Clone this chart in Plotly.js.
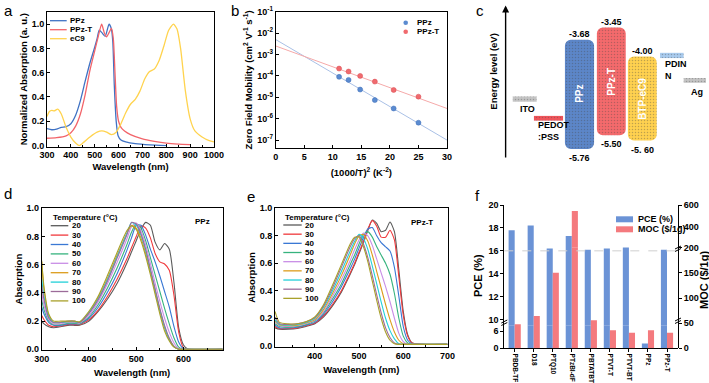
<!DOCTYPE html>
<html>
<head>
<meta charset="utf-8">
<script src="https://cdn.plot.ly/plotly-3.0.1.min.js"></script>
<style>
  html, body { margin: 0; padding: 0; background: #fff; }
  #fig { width: 709px; height: 383px; }
</style>
</head>
<body>
<div id="fig"></div>
<script>
// ---------- (a) normalized absorption ----------
const wlPPz = [300, 320, 340, 360, 380, 400, 420, 440, 460, 480, 500, 510, 519, 530, 544, 560, 570, 576, 582, 590, 598, 610, 630, 670, 730, 800];
const absPPz = [0.14, 0.13, 0.135, 0.15, 0.155, 0.18, 0.25, 0.37, 0.53, 0.68, 0.81, 0.88, 0.95, 0.93, 0.90, 1.0, 0.96, 0.85, 0.5, 0.2, 0.08, 0.045, 0.03, 0.015, 0.005, 0.0];
const wlPPzT = [300, 340, 380, 400, 420, 440, 460, 480, 500, 515, 529, 540, 550, 560, 570, 578, 585, 592, 600, 610, 625, 650, 700, 750, 800, 850, 900];
const absPPzT = [0.06, 0.065, 0.08, 0.105, 0.16, 0.26, 0.42, 0.62, 0.78, 0.90, 1.0, 0.93, 0.895, 0.93, 0.965, 0.88, 0.6, 0.32, 0.2, 0.15, 0.12, 0.09, 0.055, 0.035, 0.02, 0.012, 0.008];
const wlEC9 = [300, 310, 320, 330, 345, 360, 380, 400, 420, 435, 450, 480, 510, 530, 550, 570, 590, 610, 630, 650, 670, 690, 710, 730, 750, 770, 790, 810, 830, 845, 860, 880, 900, 920, 950, 980, 1000];
const absEC9 = [0.24, 0.28, 0.29, 0.285, 0.30, 0.26, 0.15, 0.07, 0.02, 0.0, 0.02, 0.07, 0.11, 0.12, 0.11, 0.09, 0.11, 0.18, 0.27, 0.34, 0.38, 0.45, 0.55, 0.61, 0.63, 0.70, 0.82, 0.95, 1.0, 0.96, 0.8, 0.45, 0.22, 0.12, 0.07, 0.04, 0.03];

// ---------- (b) zero field mobility ----------
const invT2 = [11.1, 12.76, 14.79, 17.36, 20.66, 25.0];
const muPPz = [9e-5, 6.5e-5, 2.3e-5, 7.4e-6, 3e-6, 6.5e-7];
const muPPzT = [2.2e-4, 1.6e-4, 1e-4, 5.4e-5, 2.2e-5, 1.07e-5];
const fitX = [0, 30];
const fitPPz = [5e-3, 1e-7];
const fitPPzT = [2.5e-3, 3e-6];

// ---------- (c) energy levels (eV) ----------
const levelNames = ["ITO", "PEDOT:PSS", "PPz", "PPz-T", "BTP-eC9", "PDINN", "Ag"];
const levelTop = [-4.76, -5.13, -3.68, -3.45, -4.00, -3.93, -4.41];
const levelBottom = [-4.86, -5.22, -5.76, -5.50, -5.60, -4.03, -4.50];
const topLabels = ["-3.68", "-3.45", "-4.00"];
const bottomLabels = ["-5.76", "-5.50", "-5. 60"];

// ---------- (d) PPz temperature dependent absorption ----------
const temps = [20, 30, 40, 50, 60, 70, 80, 90, 100];
const wlD = [300, 305, 315, 325, 340, 355, 370, 380, 400, 420, 440, 460, 480, 490, 500, 510, 520, 530, 540, 550, 560, 570, 580, 590, 600, 610, 683];
const ppz20 = [0.20, 0.18, 0.16, 0.153, 0.16, 0.17, 0.17, 0.17, 0.20, 0.27, 0.36, 0.47, 0.61, 0.69, 0.77, 0.85, 0.90, 0.88, 0.76, 0.705, 0.75, 0.71, 0.47, 0.15, 0.03, 0.0, 0.0];
const ppz30 = [0.24, 0.21, 0.17, 0.16, 0.165, 0.175, 0.175, 0.175, 0.21, 0.28, 0.38, 0.50, 0.64, 0.72, 0.80, 0.875, 0.86, 0.79, 0.68, 0.62, 0.605, 0.56, 0.38, 0.12, 0.01, 0.0, 0.0];
const ppz40 = [0.30, 0.25, 0.19, 0.17, 0.17, 0.18, 0.18, 0.18, 0.22, 0.30, 0.41, 0.54, 0.70, 0.79, 0.88, 0.88, 0.81, 0.71, 0.62, 0.52, 0.41, 0.30, 0.16, 0.05, 0.005, 0.0, 0.0];
const ppz50 = [0.35, 0.28, 0.20, 0.175, 0.175, 0.185, 0.185, 0.18, 0.23, 0.32, 0.44, 0.58, 0.74, 0.83, 0.89, 0.86, 0.77, 0.65, 0.53, 0.41, 0.29, 0.18, 0.08, 0.015, 0.0, 0.0, 0.0];
const ppz60 = [0.40, 0.31, 0.21, 0.18, 0.18, 0.19, 0.19, 0.185, 0.24, 0.34, 0.47, 0.62, 0.78, 0.87, 0.895, 0.84, 0.74, 0.61, 0.47, 0.34, 0.22, 0.12, 0.045, 0.005, 0.0, 0.0, 0.0];
const ppz70 = [0.62, 0.42, 0.24, 0.19, 0.19, 0.195, 0.195, 0.19, 0.26, 0.37, 0.51, 0.67, 0.82, 0.88, 0.86, 0.79, 0.68, 0.55, 0.41, 0.27, 0.15, 0.07, 0.02, 0.0, 0.0, 0.0, 0.0];
const ppz80 = [0.50, 0.37, 0.23, 0.19, 0.19, 0.195, 0.195, 0.19, 0.26, 0.36, 0.50, 0.66, 0.82, 0.90, 0.88, 0.81, 0.70, 0.56, 0.42, 0.28, 0.16, 0.07, 0.02, 0.0, 0.0, 0.0, 0.0];
const ppz90 = [0.45, 0.35, 0.22, 0.19, 0.19, 0.20, 0.20, 0.19, 0.255, 0.355, 0.49, 0.65, 0.81, 0.90, 0.89, 0.82, 0.71, 0.57, 0.43, 0.29, 0.17, 0.08, 0.02, 0.0, 0.0, 0.0, 0.0];
const ppz100 = [0.63, 0.44, 0.25, 0.20, 0.20, 0.20, 0.20, 0.195, 0.27, 0.38, 0.53, 0.69, 0.84, 0.875, 0.85, 0.77, 0.66, 0.53, 0.39, 0.25, 0.13, 0.06, 0.015, 0.0, 0.0, 0.0, 0.0];

// ---------- (e) PPz-T temperature dependent absorption ----------
const wlE = [310, 320, 340, 360, 380, 400, 420, 440, 460, 480, 490, 500, 510, 520, 530, 540, 550, 560, 570, 580, 590, 600, 610, 620, 640, 700];
const ppzt20 = [0.13, 0.12, 0.12, 0.125, 0.14, 0.16, 0.21, 0.29, 0.39, 0.52, 0.59, 0.67, 0.75, 0.84, 0.915, 0.89, 0.83, 0.84, 0.90, 0.83, 0.55, 0.25, 0.08, 0.02, 0.01, 0.01];
const ppzt30 = [0.14, 0.125, 0.125, 0.13, 0.145, 0.165, 0.22, 0.30, 0.40, 0.53, 0.60, 0.68, 0.76, 0.85, 0.91, 0.87, 0.79, 0.79, 0.84, 0.77, 0.50, 0.22, 0.07, 0.02, 0.01, 0.01];
const ppzt40 = [0.15, 0.13, 0.13, 0.135, 0.15, 0.17, 0.23, 0.32, 0.43, 0.56, 0.63, 0.71, 0.79, 0.85, 0.86, 0.80, 0.75, 0.72, 0.69, 0.57, 0.36, 0.14, 0.04, 0.015, 0.01, 0.01];
const ppzt50 = [0.16, 0.14, 0.135, 0.14, 0.155, 0.18, 0.24, 0.34, 0.45, 0.59, 0.66, 0.74, 0.81, 0.83, 0.79, 0.72, 0.66, 0.60, 0.52, 0.38, 0.20, 0.07, 0.02, 0.01, 0.01, 0.01];
const ppzt60 = [0.17, 0.145, 0.14, 0.145, 0.16, 0.185, 0.25, 0.36, 0.48, 0.62, 0.70, 0.77, 0.82, 0.80, 0.73, 0.63, 0.53, 0.43, 0.32, 0.20, 0.09, 0.03, 0.01, 0.01, 0.01, 0.01];
const ppzt70 = [0.18, 0.15, 0.145, 0.15, 0.165, 0.19, 0.265, 0.38, 0.51, 0.66, 0.74, 0.80, 0.81, 0.76, 0.66, 0.54, 0.42, 0.30, 0.19, 0.10, 0.04, 0.015, 0.01, 0.01, 0.01, 0.01];
const ppzt80 = [0.19, 0.155, 0.15, 0.155, 0.17, 0.20, 0.28, 0.40, 0.54, 0.69, 0.76, 0.81, 0.78, 0.70, 0.58, 0.45, 0.32, 0.20, 0.11, 0.05, 0.015, 0.01, 0.01, 0.01, 0.01, 0.01];
const ppzt90 = [0.21, 0.16, 0.155, 0.16, 0.175, 0.205, 0.29, 0.42, 0.57, 0.72, 0.78, 0.80, 0.74, 0.64, 0.51, 0.37, 0.24, 0.13, 0.06, 0.02, 0.01, 0.01, 0.01, 0.01, 0.01, 0.01];
const ppzt100 = [0.25, 0.17, 0.16, 0.16, 0.175, 0.21, 0.30, 0.44, 0.59, 0.74, 0.79, 0.79, 0.72, 0.61, 0.47, 0.33, 0.20, 0.10, 0.04, 0.015, 0.01, 0.01, 0.01, 0.01, 0.01, 0.01];

// ---------- (f) PCE and material cost ----------
const donors = ["PBDB-TF", "D18", "PTQ10", "PTzBI-dF", "PBTATBT", "PTVT-T", "PTVT-BT", "PPz", "PPz-T"];
const pce = [17.8, 18.2, 16.2, 17.3, 16.1, 16.2, 16.3, 1.7, 16.1];
const moc = [48, 64, 150, 543, 56, 36, 31, 36, 31];

// ================= drawing =================
const W = 709, H = 383;
function px(x) { return x / W; }       // pixel -> paper x
function py(y) { return 1 - y / H; }   // pixel -> paper y

const FONT = '"Liberation Sans", Arial, sans-serif';
const BLUE = "#3f72c4", RED = "#f2646a", YELLOW = "#ffd34e";
const tempColors = ["#5a5a5a", "#f0393c", "#3a78d4", "#36b37e", "#c98ee6", "#dc9c1c", "#22d0d8", "#9c6b99", "#a9a12b"];

const shapes = [];
const annotations = [];

function addText(x, y, text, opts) {
  annotations.push(Object.assign({
    xref: "paper", yref: "paper", x: px(x), y: py(y), text: text,
    showarrow: false, xanchor: "left", yanchor: "middle",
    font: { size: 8, weight: "bold", color: "#000" }
  }, opts || {}));
}
function addLine(x0, y0, x1, y1, color, width, dash) {
  shapes.push({ type: "line", xref: "paper", yref: "paper",
    x0: px(x0), y0: py(y0), x1: px(x1), y1: py(y1),
    line: { color: color, width: width || 1.2, dash: dash || "solid" } });
}

function boxAxis(domain, range, extra) {
  return Object.assign({
    domain: domain, range: range, showline: true, mirror: true,
    linecolor: "#000", linewidth: 1, ticks: "inside", ticklen: 3,
    tickcolor: "#000", showgrid: false, zeroline: false,
    tickfont: { size: 9, weight: "bold" }
  }, extra);
}
function axTitle(text, standoff) {
  return { text: text, font: { size: 9.5, weight: "bold" }, standoff: standoff };
}

const traces = [];

// (a)
[[wlPPz, absPPz, BLUE], [wlPPzT, absPPzT, RED], [wlEC9, absEC9, YELLOW]].forEach(s => {
  traces.push({ x: s[0], y: s[1], mode: "lines", line: { color: s[2], width: 1.3, shape: "spline", smoothing: 0.6 },
    xaxis: "x", yaxis: "y", showlegend: false });
});
["PPz", "PPz-T", "eC9"].forEach((name, i) => {
  const y = 20.7 + i * 9;
  addLine(50, y, 66.7, y, [BLUE, RED, YELLOW][i], 1.3);
  addText(68.3, y, name);
});

// (b)
traces.push({ x: fitX, y: fitPPz, mode: "lines", line: { color: "#a9c0e6", width: 1 }, xaxis: "x2", yaxis: "y2", showlegend: false });
traces.push({ x: fitX, y: fitPPzT, mode: "lines", line: { color: "#f5a9a9", width: 1 }, xaxis: "x2", yaxis: "y2", showlegend: false });
traces.push({ x: invT2, y: muPPz, mode: "markers", marker: { color: "#5b8bd0", size: 5, line: { color: "#3e6fb8", width: 0.5 } }, xaxis: "x2", yaxis: "y2", showlegend: false });
traces.push({ x: invT2, y: muPPzT, mode: "markers", marker: { color: "#f06a6e", size: 5, line: { color: "#d84c52", width: 0.5 } }, xaxis: "x2", yaxis: "y2", showlegend: false });
[["PPz", "#5b8bd0"], ["PPz-T", "#f06a6e"]].forEach((s, i) => {
  const y = 22.7 + i * 9;
  shapes.push({ type: "circle", xref: "paper", yref: "paper", x0: px(403.4), x1: px(408), y0: py(y + 2.3), y1: py(y - 2.3),
    fillcolor: s[1], line: { width: 0 } });
  addText(415, y, s[0]);
});

// (c) energy diagram, bars sit on slots of the hidden x axis
const levelSlot = [0.635, 1.403, 2.403, 3.429, 4.429, 5.381, 6.123];
const levelWidth = [0.77, 0.94, 0.94, 0.93, 0.93, 0.76, 0.72];
const levelColor = ["#c4c4c4", "#f0545a", "#5c86c8", "#f46a6c", "#ffd14f", "#a9cbee", "#c4c4c4"];
const bigIdx = [2, 3, 4], thinIdx = [0, 1, 5, 6];
function levelTrace(idx, radius) {
  return {
    type: "bar", xaxis: "x3", yaxis: "y3", showlegend: false,
    x: idx.map(i => levelSlot[i]), width: idx.map(i => levelWidth[i]),
    base: idx.map(i => levelBottom[i]), y: idx.map(i => levelTop[i] - levelBottom[i]),
    marker: { color: idx.map(i => levelColor[i]), cornerradius: radius, line: { width: 0 },
      pattern: { shape: ".", fillmode: "overlay", fgcolor: "#ffffff", fgopacity: 0.35, size: 3, solidity: 0.2 } }
  };
}
traces.push(levelTrace(bigIdx, 6));
traces.push(levelTrace(thinIdx, 0));
bigIdx.forEach((i, k) => {
  annotations.push({ xref: "x3", yref: "y3", x: levelSlot[i], y: levelTop[i], yshift: 6, text: topLabels[k],
    showarrow: false, font: { size: 9, weight: "bold" } });
  annotations.push({ xref: "x3", yref: "y3", x: levelSlot[i], y: levelBottom[i], yshift: -9, text: bottomLabels[k],
    showarrow: false, font: { size: 9, weight: "bold" } });
  annotations.push({ xref: "x3", yref: "y3", x: levelSlot[i], y: (levelTop[i] + levelBottom[i]) / 2, text: levelNames[i],
    textangle: -90, showarrow: false, font: { size: 10, weight: "bold", color: "#fff" } });
});
annotations.push({ xref: "x3", yref: "y3", axref: "x3", ayref: "y3", x: 0.02, y: -3.03, ax: 0.02, ay: -5.95,
  text: "", showarrow: true, arrowhead: 2, arrowsize: 1, arrowwidth: 1.4, arrowcolor: "#000" });
addText(492.7, 71, "Energy level (eV)", { xanchor: "center", textangle: -90, font: { size: 9.5, weight: "bold" } });
addText(518, 109, "ITO", { font: { size: 9, weight: "bold" } });
addText(536, 131, "PEDOT<br>:PSS", { align: "left", font: { size: 9, weight: "bold" } });
addText(663, 70, "PDIN<br>N", { align: "left", font: { size: 9, weight: "bold" } });
addText(689, 92, "Ag", { font: { size: 9, weight: "bold" } });

// (d) and (e)
const ppzSeries = [ppz20, ppz30, ppz40, ppz50, ppz60, ppz70, ppz80, ppz90, ppz100];
const ppztSeries = [ppzt20, ppzt30, ppzt40, ppzt50, ppzt60, ppzt70, ppzt80, ppzt90, ppzt100];
temps.forEach((t, i) => {
  traces.push({ x: wlD, y: ppzSeries[i], mode: "lines", line: { color: tempColors[i], width: 1.1, shape: "spline", smoothing: 0.6 },
    xaxis: "x4", yaxis: "y4", showlegend: false, name: t + "" });
  traces.push({ x: wlE, y: ppztSeries[i], mode: "lines", line: { color: tempColors[i], width: 1.1, shape: "spline", smoothing: 0.6 },
    xaxis: "x5", yaxis: "y5", showlegend: false, name: t + "" });
});
function tempLegend(x0, x1, xt, yTitle, y0, step) {
  addText(x0, yTitle, "Temperature (°C)");
  temps.forEach((t, i) => {
    const y = y0 + i * step;
    addLine(x0, y, x1, y, tempColors[i], 1.3);
    addText(xt, y, String(t));
  });
}
tempLegend(50.7, 68.3, 70, 217.7, 225.7, 9.4);
tempLegend(283.3, 301.7, 303.3, 217.7, 225, 9.17);
addText(193, 221.7, "PPz");
addText(409, 222.3, "PPz-T");

// (f) broken axes: PCE on left (two pieces), MOC on right (two pieces)
const BW = 0.32;
traces.push({ type: "bar", x: donors, y: pce, offset: -BW, width: BW, marker: { color: "#6b93d6" }, xaxis: "x6", yaxis: "y6", showlegend: false });
traces.push({ type: "bar", x: donors, y: pce, offset: -BW, width: BW, marker: { color: "#6b93d6" }, xaxis: "x6", yaxis: "y7", showlegend: false });
traces.push({ type: "bar", x: donors, y: moc, offset: 0, width: BW, marker: { color: "#f47a7e" }, xaxis: "x6", yaxis: "y8", showlegend: false });
traces.push({ type: "bar", x: donors, y: moc, offset: 0, width: BW, marker: { color: "#f47a7e" }, xaxis: "x6", yaxis: "y9", showlegend: false });
shapes.push({ type: "line", xref: "x6 domain", yref: "y7", x0: 0, x1: 1, y0: 16, y1: 16, line: { color: "#cfcfcf", width: 1, dash: "dash" } });
[[504.3, 322], [678, 320], [678, 248]].forEach(b => {
  addLine(b[0] - 3, b[1] + 1, b[0] + 3, b[1] - 2, "#000", 1);
  addLine(b[0] - 3, b[1] + 3.5, b[0] + 3, b[1] + 0.5, "#000", 1);
});
[["PCE (%)", "#6b93d6"], ["MOC ($/1g)", "#f47a7e"]].forEach((s, i) => {
  const y = 219.3 + i * 10;
  shapes.push({ type: "rect", xref: "paper", yref: "paper", x0: px(616), x1: px(633), y0: py(y + 3), y1: py(y - 3),
    fillcolor: s[1], line: { width: 0 } });
  addText(635.5, y, s[0], { font: { size: 9, weight: "bold" } });
});
addText(478, 275, "PCE (%)", { xanchor: "center", textangle: -90, font: { size: 11, weight: "bold" } });
addText(704, 280, "MOC ($/1g)", { xanchor: "center", textangle: -90, font: { size: 11, weight: "bold" } });

// panel letters
[["a", 8, 10], ["b", 235, 10], ["c", 480, 10], ["d", 8, 193], ["e", 251, 196], ["f", 478, 195]].forEach(l => {
  addText(l[1], l[2], l[0], { xanchor: "center", font: { size: 15, color: "#000" } });
});

const fAxis = {
  showline: true, linecolor: "#000", linewidth: 1, ticks: "outside", ticklen: 3, tickcolor: "#000",
  showgrid: false, zeroline: false, tickfont: { size: 9, weight: "bold" }, anchor: "x6"
};

const layout = {
  width: W, height: H, autosize: false,
  margin: { l: 0, r: 0, t: 0, b: 0 },
  paper_bgcolor: "#fff", plot_bgcolor: "rgba(0,0,0,0)",
  font: { family: FONT, color: "#000", size: 9 },
  showlegend: false,
  xaxis: boxAxis([px(47), px(214)], [300, 1000], { dtick: 100, minor: { ticks: "inside", ticklen: 2, dtick: 50 },
    title: axTitle("Wavelength (nm)", 4), anchor: "y" }),
  yaxis: boxAxis([py(146.5), py(12)], [-0.008, 1.1], { dtick: 0.2, tickformat: ".1f",
    title: axTitle("Normalized Absorption (a. u.)", 2), anchor: "x" }),
  xaxis2: boxAxis([px(275.7), px(447)], [0, 30], { dtick: 5, title: axTitle("(1000/T)<sup>2</sup> (K<sup>-2</sup>)", 8), anchor: "y2" }),
  yaxis2: boxAxis([py(148), py(11.7)], [-7.37, -1], { type: "log",
    tickvals: [1e-7, 1e-6, 1e-5, 1e-4, 1e-3, 1e-2, 1e-1],
    ticktext: ["10<sup>-7</sup>", "10<sup>-6</sup>", "10<sup>-5</sup>", "10<sup>-4</sup>", "10<sup>-3</sup>", "10<sup>-2</sup>", "10<sup>-1</sup>"],
    title: axTitle("Zero Field Mobility (cm<sup>2</sup> V<sup>-1</sup> s<sup>-1</sup>)", 2), anchor: "x2" }),
  xaxis3: { domain: [px(505), 1], range: [0, 6.58], visible: false, anchor: "y3" },
  yaxis3: { domain: [py(159), py(5)], range: [-5.95, -3.02], visible: false, anchor: "x3" },
  xaxis4: boxAxis([px(41.7), px(222.7)], [300, 683], { dtick: 100, minor: { ticks: "inside", ticklen: 2, dtick: 50 },
    title: axTitle("Wavelength (nm)", 6), anchor: "y4" }),
  yaxis4: boxAxis([py(350), py(208.3)], [-0.005, 1.0], { dtick: 0.2, tickformat: ".1f",
    title: axTitle("Absorption", 2), anchor: "x4" }),
  xaxis5: boxAxis([px(275), px(447.5)], [310, 700], { tickvals: [400, 500, 600, 700], minor: { ticks: "inside", ticklen: 2, dtick: 50 },
    title: axTitle("Wavelength (nm)", 6), anchor: "y5" }),
  yaxis5: boxAxis([py(346.7), py(208.3)], [-0.007, 1.0], { dtick: 0.2, tickformat: ".1f",
    title: axTitle("Absorption", 2), anchor: "x5" }),
  xaxis6: Object.assign({}, fAxis, { domain: [px(504.3), px(678)], range: [-0.546, 8.578], type: "category",
    tickangle: 90, tickfont: { size: 6.5, weight: "bold" }, anchor: "y6" }),
  yaxis6: Object.assign({}, fAxis, { domain: [py(348.3), py(325.3)], range: [0, 8], tickvals: [0, 6] }),
  yaxis7: Object.assign({}, fAxis, { domain: [py(325.3), py(205)], range: [9.5, 20], tickvals: [10, 12, 14, 16, 18, 20] }),
  yaxis8: Object.assign({}, fAxis, { domain: [py(348.3), py(247.7)], range: [0, 200], side: "right", tickvals: [0, 50, 100, 150] }),
  yaxis9: Object.assign({}, fAxis, { domain: [py(247.7), py(205)], range: [200, 600], side: "right", tickvals: [200, 400, 600] }),
  shapes: shapes,
  annotations: annotations
};

Plotly.newPlot("fig", traces, layout, { staticPlot: true, displayModeBar: false });
</script>
</body>
</html>
